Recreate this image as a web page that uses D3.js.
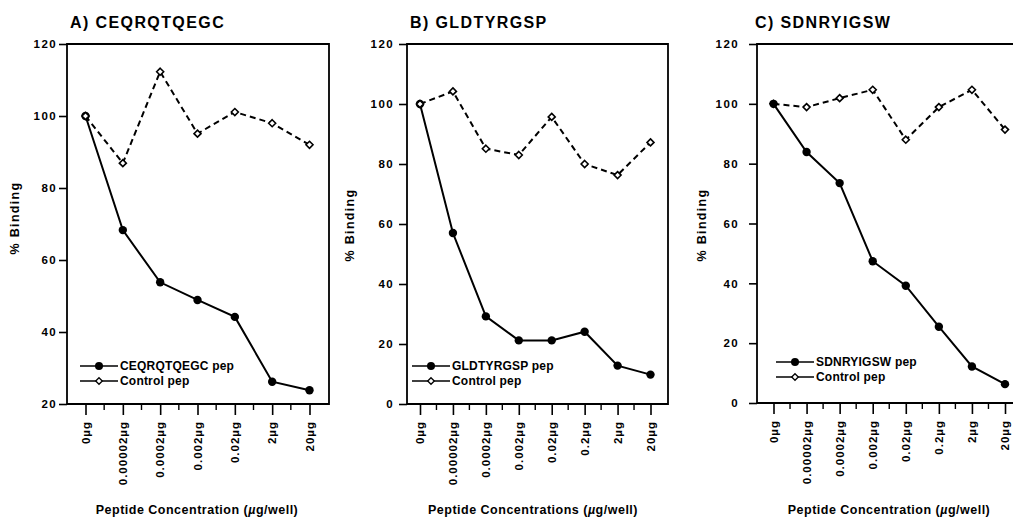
<!DOCTYPE html>
<html>
<head>
<meta charset="utf-8">
<script src="https://cdn.jsdelivr.net/npm/d3@7"></script>
<style>
body { margin: 0; background: #fff; }
svg text { font-family: "Liberation Sans", Arial, Helvetica, sans-serif; font-weight: bold; fill: #000; }
</style>
</head>
<body>
<svg id="chart" width="1013" height="519"></svg>
<script>
// values
var catsA = ["0µg", "0.00002µg", "0.0002µg", "0.002µg", "0.02µg", "2µg", "20µg"];
var bindA = [100, 68.3, 53.8, 48.9, 44.2, 26.2, 23.8];
var ctrlA = [100, 86.9, 112.3, 95.1, 101.1, 98, 92];

var catsB = ["0µg", "0.00002µg", "0.0002µg", "0.002µg", "0.02µg", "0.2µg", "2µg", "20µg"];
var bindB = [100, 57, 29.2, 21.2, 21.2, 24.1, 12.8, 9.8];
var ctrlB = [100, 104.2, 85.1, 83, 95.7, 80, 76.3, 87.2];

var catsC = ["0µg", "0.00002µg", "0.0002µg", "0.002µg", "0.02µg", "0.2µg", "2µg", "20µg"];
var bindC = [100, 83.9, 73.5, 47.4, 39.2, 25.5, 12.2, 6.3];
var ctrlC = [100, 98.9, 101.9, 104.7, 88, 98.9, 104.7, 91.4];

var yTicksA = [20, 40, 60, 80, 100, 120];
var yTicksBC = [0, 20, 40, 60, 80, 100, 120];

var svg = d3.select("#chart");

var panels = [
    { title: "A) CEQRQTQEGC", pep: "CEQRQTQEGC pep", xTitle: "Peptide Concentration (",
      cats: catsA, bind: bindA, ctrl: ctrlA, yTicks: yTicksA, yMin: 20,
      left: 67, right: 329, top: 44, bottom: 404, x0: 85.5, x1: 309.5,
      labPad: 2, titleX: 70, yLabX: 15, yLabY: 218, xTitleX: 197,
      legX: 80, legY: 366, ctrlOnTop: true },
    { title: "B) GLDTYRGSP", pep: "GLDTYRGSP pep", xTitle: "Peptide Concentrations (",
      cats: catsB, bind: bindB, ctrl: ctrlB, yTicks: yTicksBC, yMin: 0,
      left: 407, right: 668, top: 44, bottom: 404, x0: 420, x1: 650.5,
      labPad: 5, titleX: 410, yLabX: 350, yLabY: 225, xTitleX: 533,
      legX: 412, legY: 366, ctrlOnTop: true },
    { title: "C) SDNRYIGSW", pep: "SDNRYIGSW pep", xTitle: "Peptide Concentration (",
      cats: catsC, bind: bindC, ctrl: ctrlC, yTicks: yTicksBC, yMin: 0,
      left: 757, right: 1030, top: 44, bottom: 403, x0: 773.5, x1: 1005,
      labPad: 10, titleX: 755, yLabX: 702, yLabY: 225, xTitleX: 889,
      legX: 776, legY: 362, ctrlOnTop: false }
];

function diamond(r) {
    return "M0," + (-r) + "L" + r + ",0L0," + r + "L" + (-r) + ",0Z";
}

panels.forEach(function (p) {
    var g = svg.append("g");

    var x = d3.scalePoint().domain(p.cats).range([p.x0, p.x1]);
    var y = d3.scaleLinear().domain([p.yMin, 120]).range([p.bottom, p.top]);

    // frame
    g.append("path")
        .attr("d", "M" + p.left + "," + p.top + "H" + p.right + "V" + p.bottom +
                   "H" + p.left + "Z")
        .attr("fill", "none")
        .attr("stroke", "#000")
        .attr("stroke-width", 1.8);

    // y axis
    var yAxis = g.append("g")
        .attr("transform", "translate(" + p.left + ",0)")
        .call(d3.axisLeft(y).tickValues(p.yTicks).tickSize(8).tickSizeOuter(0).tickPadding(p.labPad));
    yAxis.select(".domain").remove();
    yAxis.selectAll("line").attr("stroke-width", 1.6);
    yAxis.selectAll("text")
        .style("font-size", "11.5px")
        .style("letter-spacing", "1.4px")
        .attr("font-family", null);

    // x axis: major ticks, minor ticks at midpoints
    var xAxis = g.append("g")
        .attr("transform", "translate(0," + p.bottom + ")")
        .call(d3.axisBottom(x).tickSize(11).tickSizeOuter(0).tickFormat(""));
    xAxis.select(".domain").remove();
    xAxis.selectAll("line").attr("stroke-width", 1.6);

    var mids = d3.pairs(p.cats).map(function (d) { return (x(d[0]) + x(d[1])) / 2; });
    g.selectAll(".minor")
        .data(mids)
        .enter()
        .append("line")
        .attr("x1", function (d) { return d; })
        .attr("x2", function (d) { return d; })
        .attr("y1", p.bottom)
        .attr("y2", p.bottom + 6)
        .attr("stroke", "#000")
        .attr("stroke-width", 1.4);

    g.selectAll(".xlab")
        .data(p.cats)
        .enter()
        .append("text")
        .attr("transform", function (d) {
            return "translate(" + x(d) + "," + (p.bottom + 17) + ") rotate(-90)";
        })
        .attr("dy", "0.35em")
        .attr("text-anchor", "end")
        .style("font-size", "11.5px")
        .style("letter-spacing", "1px")
        .text(function (d) { return d; });

    // titles
    g.append("text")
        .attr("x", p.titleX)
        .attr("y", 27.5)
        .style("font-size", "16px")
        .style("letter-spacing", "1.4px")
        .text(p.title);

    g.append("text")
        .attr("transform", "translate(" + p.yLabX + "," + p.yLabY + ") rotate(-90)")
        .attr("dy", "0.35em")
        .attr("text-anchor", "middle")
        .style("font-size", "12.5px")
        .style("letter-spacing", "1.3px")
        .text("% Binding");

    var xt = g.append("text")
        .attr("x", p.xTitleX)
        .attr("y", 514)
        .attr("text-anchor", "middle")
        .style("font-size", "12.5px")
        .style("letter-spacing", "0.5px");
    xt.append("tspan").text(p.xTitle);
    xt.append("tspan").style("font-style", "italic").text("µ");
    xt.append("tspan").text("g/well)");

    // series
    var line = d3.line()
        .x(function (d, i) { return x(p.cats[i]); })
        .y(function (d) { return y(d); });

    function drawBind() {
        g.append("path")
            .attr("d", line(p.bind))
            .attr("fill", "none")
            .attr("stroke", "#000")
            .attr("stroke-width", 2);
        g.selectAll(".bdot" + p.pep.length)
            .data(p.bind)
            .enter()
            .append("circle")
            .attr("cx", function (d, i) { return x(p.cats[i]); })
            .attr("cy", function (d) { return y(d); })
            .attr("r", 4.2)
            .attr("fill", "#000");
    }

    function drawCtrl() {
        g.append("path")
            .attr("d", line(p.ctrl))
            .attr("fill", "none")
            .attr("stroke", "#000")
            .attr("stroke-width", 2)
            .attr("stroke-dasharray", "6,4");
        g.selectAll(".cdot" + p.pep.length)
            .data(p.ctrl)
            .enter()
            .append("path")
            .attr("transform", function (d, i) {
                return "translate(" + x(p.cats[i]) + "," + y(d) + ")";
            })
            .attr("d", diamond(3.5))
            .attr("fill", "#fff")
            .attr("stroke", "#000")
            .attr("stroke-width", 1.6);
    }

    if (p.ctrlOnTop) { drawBind(); drawCtrl(); } else { drawCtrl(); drawBind(); }

    // legend
    var leg = [
        { name: p.pep, y: p.legY, filled: true },
        { name: "Control pep", y: p.legY + 15, filled: false }
    ];
    leg.forEach(function (l) {
        g.append("line")
            .attr("x1", p.legX)
            .attr("x2", p.legX + 38)
            .attr("y1", l.y)
            .attr("y2", l.y)
            .attr("stroke", "#000")
            .attr("stroke-width", 1.3);
        if (l.filled) {
            g.append("circle")
                .attr("cx", p.legX + 19)
                .attr("cy", l.y)
                .attr("r", 4)
                .attr("fill", "#000");
        } else {
            g.append("path")
                .attr("transform", "translate(" + (p.legX + 19) + "," + l.y + ")")
                .attr("d", diamond(3.3))
                .attr("fill", "#fff")
                .attr("stroke", "#000")
                .attr("stroke-width", 1.3);
        }
        g.append("text")
            .attr("x", p.legX + 40)
            .attr("y", l.y + 4)
            .style("font-size", "12px")
            .style("letter-spacing", "0.2px")
            .text(l.name);
    });
});
</script>
</body>
</html>
